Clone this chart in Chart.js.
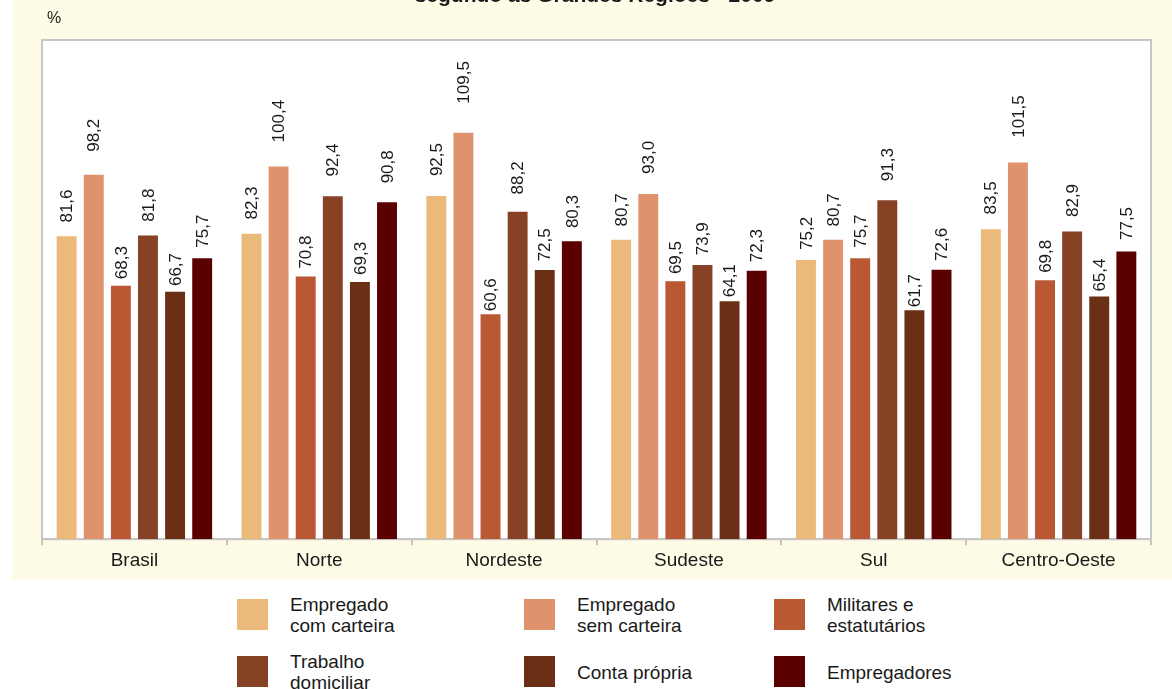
<!DOCTYPE html>
<html lang="pt-BR">
<head>
<meta charset="utf-8">
<title>Rendimento segundo as Grandes Regiões - 2009</title>
<script src="https://cdn.jsdelivr.net/npm/chart.js@4/dist/chart.umd.min.js"></script>
<style>
    html, body { margin: 0; padding: 0; background: #ffffff; }
    body { width: 1172px; height: 689px; position: relative; overflow: hidden;
           font-family: "Liberation Sans", Arial, Helvetica, sans-serif; color: #1a1a1a; }
    #painel { position: absolute; left: 12px; top: 0; width: 1160px; height: 580px; background: #fefbe6; }
    .item { position: absolute; height: 32px; }
    .item .cor { position: absolute; left: 0; top: 0; width: 31px; height: 31px; }
    .item .txt { position: absolute; left: 53px; top: 50%; transform: translateY(-50%);
                 font-size: 19px; line-height: 21px; white-space: nowrap; }
</style>
</head>
<body>
<div id="painel"><canvas id="grafico"></canvas></div>
<div id="legenda"></div>
<script>
// Dados
var regioes = ['Brasil', 'Norte', 'Nordeste', 'Sudeste', 'Sul', 'Centro-Oeste'];
var series = ['Empregado\ncom carteira', 'Empregado\nsem carteira', 'Militares e\nestatutários',
              'Trabalho\ndomiciliar', 'Conta própria', 'Empregadores'];
var comCarteira   = [81.6, 82.3, 92.5, 80.7, 75.2, 83.5];
var semCarteira   = [98.2, 100.4, 109.5, 93.0, 80.7, 101.5];
var militares     = [68.3, 70.8, 60.6, 69.5, 75.7, 69.8];
var domiciliar    = [81.8, 92.4, 88.2, 73.9, 91.3, 82.9];
var contaPropria  = [66.7, 69.3, 72.5, 64.1, 61.7, 65.4];
var empregadores  = [75.7, 90.8, 80.3, 72.3, 72.6, 77.5];
var valores = [comCarteira, semCarteira, militares, domiciliar, contaPropria, empregadores];
var cores = ['#ebba7a', '#df936c', '#b95832', '#874124', '#6b2f16', '#5b0000'];

// Fundo branco da área do gráfico com moldura cinza
var molduraPlugin = {
    id: 'moldura',
    beforeDraw: function (chart) {
        var a = chart.chartArea, ctx = chart.ctx;
        ctx.save();
        ctx.fillStyle = '#ffffff';
        ctx.fillRect(a.left, a.top, a.right - a.left, a.bottom - a.top);
        ctx.strokeStyle = '#c6c6c6';
        ctx.lineWidth = 2;
        ctx.strokeRect(a.left, a.top, a.right - a.left, a.bottom - a.top);
        ctx.restore();
    },
    afterDraw: function (chart) {
        var ctx = chart.ctx;
        ctx.save();
        ctx.fillStyle = '#1a1a1a';
        ctx.font = 'bold 21px "Liberation Sans", Arial, sans-serif';
        ctx.textAlign = 'center';
        ctx.textBaseline = 'alphabetic';
        ctx.fillText('segundo as Grandes Regiões - 2009', 583, 2);
        ctx.font = '16px "Liberation Sans", Arial, sans-serif';
        ctx.textAlign = 'left';
        ctx.textBaseline = 'middle';
        ctx.fillText('%', 35, 19);
        ctx.restore();
    }
};

// Rótulos verticais sobre as barras
var rotulosPlugin = {
    id: 'rotulos',
    afterDatasetsDraw: function (chart) {
        var ctx = chart.ctx;
        ctx.save();
        ctx.fillStyle = '#1a1a1a';
        ctx.font = '17px "Liberation Sans", Arial, sans-serif';
        ctx.textAlign = 'left';
        ctx.textBaseline = 'middle';
        chart.data.datasets.forEach(function (ds, i) {
            chart.getDatasetMeta(i).data.forEach(function (bar, j) {
                var v = ds.data[j];
                var folga = Math.max(3, 3 + (v - 62) * 0.55);
                ctx.save();
                ctx.translate(bar.x + 1, bar.y - folga);
                ctx.rotate(-Math.PI / 2);
                ctx.fillText(v.toFixed(1).replace('.', ','), 0, 0);
                ctx.restore();
            });
        });
        ctx.restore();
    }
};

var datasets = series.map(function (nome, i) {
    return {
        label: nome,
        data: valores[i],
        backgroundColor: cores[i],
        borderWidth: 0,
        barPercentage: 0.735,
        categoryPercentage: 0.88
    };
});

new Chart(document.getElementById('grafico'), {
    type: 'bar',
    data: { labels: regioes, datasets: datasets },
    options: {
        responsive: true,
        maintainAspectRatio: false,
        animation: false,
        layout: { padding: { left: 30, right: 21, top: 40, bottom: 4 } },
        scales: {
            x: {
                grid: { offset: true, drawOnChartArea: false, drawTicks: true, tickLength: 6, color: '#c6c6c6', lineWidth: 2 },
                border: { display: true, color: '#c6c6c6', width: 2 },
                ticks: { color: '#1a1a1a', padding: 4, font: { family: '"Liberation Sans", Arial, sans-serif', size: 19 } }
            },
            y: {
                display: false,
                min: 0,
                max: 134.5
            }
        },
        plugins: {
            legend: { display: false },
            tooltip: { enabled: false }
        }
    },
    plugins: [molduraPlugin, rotulosPlugin]
});

// Legenda em HTML abaixo do painel
var posX = [237, 524, 774];
var posY = [599, 656];
var legenda = document.getElementById('legenda');
series.forEach(function (nome, i) {
    var item = document.createElement('div');
    item.className = 'item';
    item.style.left = posX[i % 3] + 'px';
    item.style.top = posY[Math.floor(i / 3)] + 'px';
    var cor = document.createElement('div');
    cor.className = 'cor';
    cor.style.background = cores[i];
    var txt = document.createElement('div');
    txt.className = 'txt';
    txt.innerHTML = nome.replace('\n', '<br>');
    item.appendChild(cor);
    item.appendChild(txt);
    legenda.appendChild(item);
});
</script>
</body>
</html>
